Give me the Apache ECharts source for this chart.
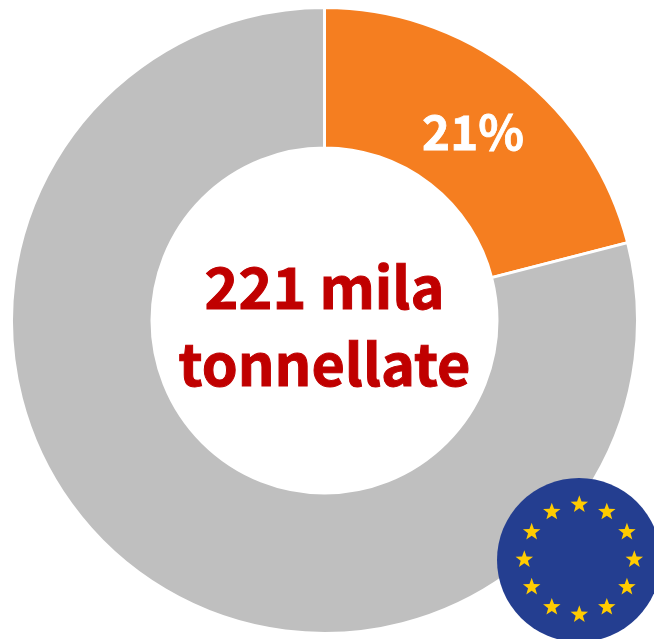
<!DOCTYPE html>
<html><head><meta charset="utf-8">
<style>html,body{margin:0;padding:0;background:#fff}#c{width:654px;height:639px}</style>
<script src="https://cdn.jsdelivr.net/npm/echarts@6/dist/echarts.min.js"></script></head>
<body><div id="c"></div>
<script>
const categories = ['Quota', 'Resto'];
const values = [21, 79];
const colours = ['#F57E20', '#BFBFBF'];
const centreLines = ['221 mila', 'tonnellate'];
const sliceLabel = '21%';
const flagStars = [0,30,60,90,120,150,180,210,240,270,300,330];

function starPoints(a){
  const r=a*Math.PI/180,cx=579.3+55*Math.sin(r),cy=559.5-55*Math.cos(r),p=[];
  for(let k=0;k<10;k++){const q=k*Math.PI/5,R=k%2?3.8:9.2;p.push([cx+R*Math.sin(q),cy-R*Math.cos(q)]);}
  return p;
}
const font='"Noto Sans CJK SC"';
const chart = echarts.init(document.getElementById('c'), null, {renderer:'canvas'});
chart.setOption({
  animation:false,
  series:[
    {type:'pie', center:[324.5,320.5], radius:[172.5,313], startAngle:90, clockwise:true,
     silent:true,
     itemStyle:{borderColor:'#fff', borderWidth:3},
     label:{show:false},
     data:categories.map((n,i)=>({name:n,value:values[i],itemStyle:{color:colours[i]},
        label:{show:false}}))
    }
  ],
  graphic:[
    {type:'text',z:20,silent:true,x:473,y:131.5,
     style:{text:sliceLabel,fill:'#fff',stroke:'#fff',lineWidth:0.8,font:'700 47.5px '+font,align:'center',verticalAlign:'middle'}},
    {type:'text',z:20,silent:true,x:324.5,y:287,
     style:{text:centreLines[0],fill:'#C00000',stroke:'#C00000',lineWidth:1,font:'700 57.5px '+font,align:'center',verticalAlign:'middle'}},
    {type:'text',z:20,silent:true,x:324.5,y:364.5,
     style:{text:centreLines[1],fill:'#C00000',stroke:'#C00000',lineWidth:1,font:'700 57.5px '+font,align:'center',verticalAlign:'middle'}},
    {type:'circle',z:20,silent:true,shape:{cx:579,cy:560,r:82},style:{fill:'#243E90'}},
    ...flagStars.map(a=>({type:'polygon',z:21,silent:true,shape:{points:starPoints(a)},style:{fill:'#FFCC00'}}))
  ]
});
</script></body></html>
